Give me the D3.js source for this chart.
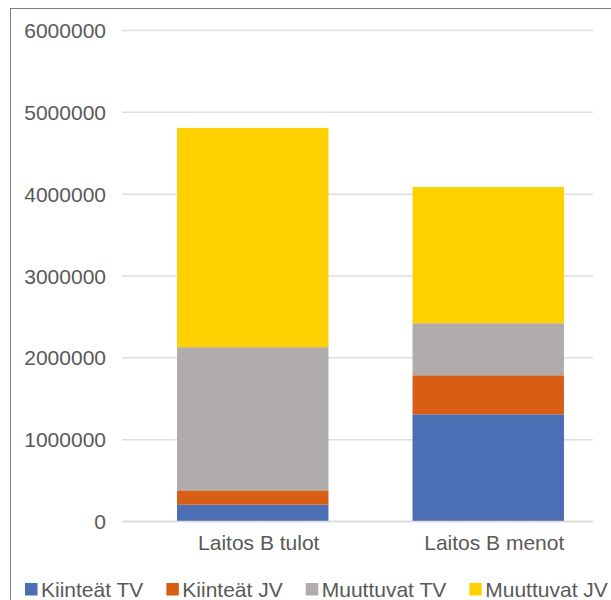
<!DOCTYPE html>
<html>
<head>
<meta charset="utf-8">
<script src="https://cdn.jsdelivr.net/npm/d3@7/dist/d3.min.js"></script>
<style>
  html, body { margin: 0; padding: 0; background: #fff; overflow: hidden; }
  svg { display: block; font-family: "Liberation Sans", Arial, sans-serif; }
</style>
</head>
<body>
<svg id="chart" width="611" height="600"></svg>
<script>
const categories = ["Laitos B tulot", "Laitos B menot"];
const seriesNames = ["Kiinteät TV", "Kiinteät JV", "Muuttuvat TV", "Muuttuvat JV"];
const kiinteatTV = [205000, 1310000];
const kiinteatJV = [175000, 477000];
const muuttuvatTV = [1750000, 636000];
const muuttuvatJV = [2680000, 1664000];
const yTicks = [0, 1000000, 2000000, 3000000, 4000000, 5000000, 6000000];
const colors = ["#4C6EB4", "#D95E15", "#AFACAB", "#FFD100"];

const seriesValues = [kiinteatTV, kiinteatJV, muuttuvatTV, muuttuvatJV];
const table = categories.map((c, i) => {
  const row = { category: c };
  seriesNames.forEach((s, j) => row[s] = seriesValues[j][i]);
  return row;
});

const svg = d3.select("#chart");

// chart border
svg.append("rect")
  .attr("x", 10.5).attr("y", 8.5)
  .attr("width", 640).attr("height", 640)
  .attr("fill", "#fff").attr("stroke", "#808080").attr("stroke-width", 1);

const y = d3.scaleLinear().domain([0, 6000000]).range([521.5, 30.5]);
const x = d3.scaleBand().domain(categories).range([135, 606])
  .paddingInner(0.357).paddingOuter(0.1785);

const gridX0 = 122, gridX1 = 593;

// gridlines
svg.append("g").selectAll("line").data(yTicks).join("line")
  .attr("x1", gridX0).attr("x2", gridX1)
  .attr("y1", d => y(d)).attr("y2", d => y(d))
  .attr("stroke", "#DDDDDD").attr("stroke-width", 1.5);

// y tick labels
svg.append("g").selectAll("text").data(yTicks).join("text")
  .attr("x", 106).attr("y", d => y(d))
  .attr("dy", "0.36em")
  .attr("text-anchor", "end")
  .attr("font-size", 21)
  .attr("fill", "#595959")
  .text(d => String(d));

// stacked bars
const stack = d3.stack().keys(seriesNames);
const stacked = stack(table);

svg.append("g").selectAll("g").data(stacked).join("g")
  .attr("fill", (d, i) => colors[i])
  .selectAll("rect").data(d => d).join("rect")
  .attr("x", d => x(d.data.category))
  .attr("width", x.bandwidth())
  .attr("y", d => y(d[1]))
  .attr("height", d => y(d[0]) - y(d[1]));

// baseline axis line
svg.append("line")
  .attr("x1", gridX0).attr("x2", gridX1)
  .attr("y1", y(0)).attr("y2", y(0))
  .attr("stroke", "#D9D9D9").attr("stroke-width", 1.5);

// category labels
svg.append("g").selectAll("text").data(categories).join("text")
  .attr("x", d => x(d) + x.bandwidth() / 2 + 6)
  .attr("y", 550)
  .attr("text-anchor", "middle")
  .attr("font-size", 21)
  .attr("fill", "#595959")
  .text(d => d);

// legend
const legend = svg.append("g");
let lx = 25;
seriesNames.forEach((s, i) => {
  legend.append("rect")
    .attr("x", lx).attr("y", 583)
    .attr("width", 12.5).attr("height", 12.5)
    .attr("fill", colors[i]);
  const t = legend.append("text")
    .attr("x", lx + 16).attr("y", 597)
    .attr("font-size", 21)
    .attr("fill", "#595959")
    .text(s);
  const w = t.node().getComputedTextLength();
  lx = lx + 16 + w + 23;
});
</script>
</body>
</html>
